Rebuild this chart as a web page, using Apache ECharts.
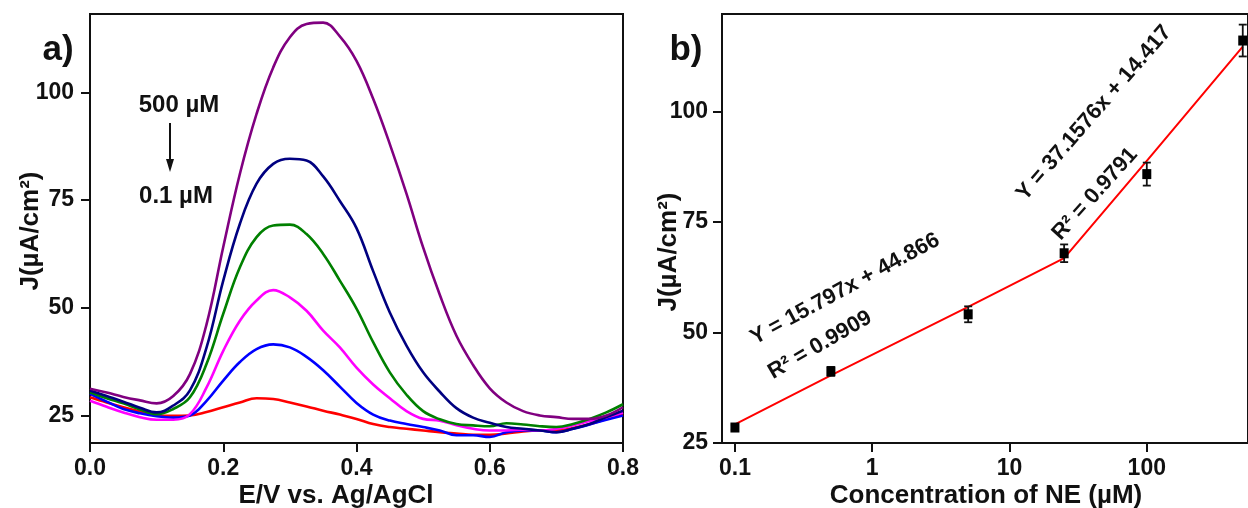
<!DOCTYPE html>
<html><head><meta charset="utf-8">
<script src="https://cdn.jsdelivr.net/npm/echarts@6/dist/echarts.min.js"></script>
<style>html,body{margin:0;padding:0;background:#fff}#c{width:1248px;height:508px}</style>
</head><body><div id="c"></div>
<script>
// ---- Panel a) : DPV curves ----
const potential = [0, 0.025, 0.05, 0.075, 0.10, 0.125, 0.15, 0.175, 0.20, 0.225, 0.25, 0.275, 0.30, 0.325, 0.35, 0.375, 0.40, 0.425, 0.45, 0.475, 0.50, 0.525, 0.55, 0.575, 0.60, 0.625, 0.65, 0.675, 0.70, 0.725, 0.75, 0.775, 0.80];
const j500uM = [31.2, 30.3, 29.3, 28.5, 27.8, 29.5, 34.6, 46.2, 64.1, 81.1, 95.0, 105.8, 112.8, 115.9, 116.2, 113.0, 107.3, 98.5, 88.0, 76.5, 64.0, 53.0, 43.5, 36.7, 31.3, 28.0, 26.0, 25.0, 24.6, 24.2, 24.2, 25.0, 26.9];
const j100uM = [30.8, 29.5, 28.2, 26.8, 25.7, 27.3, 30.8, 40.8, 56.3, 69.5, 78.8, 83.4, 84.6, 84.2, 80.5, 74.8, 68.5, 58.5, 48.9, 41.2, 35.0, 30.5, 26.7, 24.5, 23.3, 22.3, 21.9, 21.5, 21.1, 21.9, 23.0, 24.6, 26.1];
const j25uM = [30.4, 29.0, 27.8, 26.4, 25.3, 26.5, 29.2, 37.0, 48.6, 59.4, 66.4, 69.1, 69.3, 67.1, 62.5, 56.3, 49.8, 42.0, 35.0, 29.8, 26.0, 24.1, 23.0, 22.7, 22.5, 23.2, 22.9, 22.5, 22.3, 23.0, 24.2, 25.7, 27.6];
const j5uM = [28.4, 27.0, 25.7, 24.6, 24.0, 24.0, 25.3, 31.5, 40.0, 47.0, 51.7, 54.1, 52.4, 49.3, 44.7, 40.8, 36.1, 32.2, 29.0, 26.0, 24.2, 23.8, 22.7, 21.9, 21.5, 21.5, 21.7, 21.5, 21.9, 22.7, 23.7, 24.6, 25.7];
const j05uM = [30.0, 28.2, 26.5, 25.5, 24.8, 24.5, 25.0, 28.4, 33.1, 37.4, 40.4, 41.5, 40.8, 38.6, 35.5, 31.7, 27.9, 25.2, 23.8, 23.0, 22.3, 21.5, 20.4, 20.4, 20.0, 21.1, 21.5, 21.5, 21.1, 21.9, 22.9, 24.0, 25.0];
const j01uM = [29.2, 28.0, 26.9, 25.9, 25.0, 24.9, 25.0, 25.8, 26.9, 28.0, 29.0, 28.8, 28.0, 27.1, 26.1, 25.2, 24.2, 23.0, 22.3, 21.9, 21.5, 21.1, 20.8, 20.5, 20.5, 20.8, 21.3, 21.5, 21.5, 22.1, 23.0, 24.2, 25.3];
const curveColors = ['#800080', '#000080', '#008000', '#ff00ff', '#0000ff', '#ff0000'];
const leftXTicks = [0, 0.2, 0.4, 0.6, 0.8];
const leftYTicks = [25, 50, 75, 100];

// ---- Panel b) : calibration ----
const concentration = [0.1, 0.5, 5, 25, 100, 500];
const peakCurrent = [28.5, 41.2, 54.1, 67.9, 85.8, 116.0];
const peakError = [0.6, 1.0, 1.8, 2.0, 2.6, 3.6];
const fitCurrent = [29.2, 40.3, 55.8, 66.8, 88.8, 114.6];
const rightXTicks = [0.1, 1, 10, 100];
const rightYTicks = [25, 50, 75, 100];

const FONT = '"Liberation Sans", Arial, sans-serif';
const INK = '#111';
const lbl = (size) => ({ fontFamily: FONT, fontWeight: 'bold', fontSize: size, color: INK });

const chart = echarts.init(document.getElementById('c'), null, { renderer: 'canvas' });
const curves = [j500uM, j100uM, j25uM, j5uM, j05uM, j01uM];

const axisLineStyle = { show: true, onZero: false, lineStyle: { color: INK, width: 2 } };
const tickStyle = (vals) => ({ show: true, inside: false, length: 9, customValues: vals, lineStyle: { color: INK, width: 2 } });

const txt = (x, y, text, size, rotDeg) => ({
  type: 'text', x: x, y: y, rotation: (rotDeg || 0) * Math.PI / 180,
  style: { text: text, font: 'bold ' + size + 'px ' + FONT, fill: INK, align: 'center', verticalAlign: 'middle' }
});

chart.setOption({
  backgroundColor: '#ffffff',
  animation: false,
  grid: [
    { left: 90, top: 14, width: 533, height: 429, show: true, borderColor: INK, borderWidth: 2, containLabel: false },
    { left: 722, top: 14, width: 530, height: 429, show: true, borderColor: INK, borderWidth: 2, containLabel: false }
  ],
  xAxis: [
    { type: 'value', gridIndex: 0, min: 0, max: 0.8, interval: 0.2, axisLine: axisLineStyle, axisTick: tickStyle(leftXTicks),
      splitLine: { show: false },
      axisLabel: Object.assign(lbl(23), { margin: 14, customValues: leftXTicks, formatter: v => (+v).toFixed(1) }) },
    { type: 'log', gridIndex: 1, logBase: 10, min: 0.0805, max: 546, axisLine: axisLineStyle,
      axisTick: tickStyle(rightXTicks),
      splitLine: { show: false }, minorTick: { show: false },
      axisLabel: Object.assign(lbl(23), { margin: 14, customValues: rightXTicks, formatter: v => String(+(+v).toPrecision(3)) }) }
  ],
  yAxis: [
    { type: 'value', gridIndex: 0, min: 18.6, max: 118.2, axisLine: axisLineStyle,
      axisTick: tickStyle(leftYTicks), splitLine: { show: false },
      axisLabel: Object.assign(lbl(23), { margin: 16, customValues: leftYTicks }) },
    { type: 'value', gridIndex: 1, min: 25, max: 122, axisLine: axisLineStyle,
      axisTick: tickStyle(rightYTicks), splitLine: { show: false },
      axisLabel: Object.assign(lbl(23), { margin: 14, customValues: rightYTicks }) }
  ],
  series: curves.map((arr, k) => ({
    type: 'line', xAxisIndex: 0, yAxisIndex: 0, showSymbol: false, smooth: 0.4,
    lineStyle: { color: curveColors[k], width: 2.6 }, itemStyle: { color: curveColors[k] },
    data: potential.map((e, i) => [e, arr[i]]), z: 2 + (5 - k)
  })).concat([
    { type: 'line', xAxisIndex: 1, yAxisIndex: 1, showSymbol: false, smooth: false,
      lineStyle: { color: '#ff0000', width: 2 }, data: concentration.map((c, i) => [c, fitCurrent[i]]), z: 2 },
    { type: 'custom', xAxisIndex: 1, yAxisIndex: 1, z: 4,
      encode: { x: 0, y: [1, 2] },
      data: concentration.map((c, i) => [c, peakCurrent[i] - peakError[i], peakCurrent[i] + peakError[i]]),
      renderItem: function (params, api) {
        const lo = api.coord([api.value(0), api.value(1)]);
        const hi = api.coord([api.value(0), api.value(2)]);
        const w = 4, st = { stroke: INK, lineWidth: 1.8 };
        return { type: 'group', children: [
          { type: 'line', shape: { x1: lo[0], y1: lo[1], x2: hi[0], y2: hi[1] }, style: st },
          { type: 'line', shape: { x1: lo[0] - w, y1: lo[1], x2: lo[0] + w, y2: lo[1] }, style: st },
          { type: 'line', shape: { x1: hi[0] - w, y1: hi[1], x2: hi[0] + w, y2: hi[1] }, style: st }
        ] };
      } },
    { type: 'scatter', xAxisIndex: 1, yAxisIndex: 1, symbol: 'rect', symbolSize: [9, 10], z: 5,
      itemStyle: { color: '#000', opacity: 1 }, data: concentration.map((c, i) => [c, peakCurrent[i]]) }
  ]),
  graphic: [
    txt(58, 50, 'a)', 35),
    txt(686, 50, 'b)', 35),
    txt(179, 105, '500 µM', 24),
    txt(176, 196, '0.1 µM', 24),
    { type: 'line', shape: { x1: 170, y1: 123, x2: 170, y2: 162 }, style: { stroke: INK, lineWidth: 2 } },
    { type: 'polygon', shape: { points: [[166, 159], [174, 159], [170, 172]] }, style: { fill: INK } },
    txt(31, 231, 'J(µA/cm²)', 26, 90),
    txt(336, 496, 'E/V vs. Ag/AgCl', 26),
    txt(669, 252, 'J(µA/cm²)', 26, 90),
    txt(986, 496, 'Concentration of NE (µM)', 26),
    txt(845, 289, 'Y = 15.797x + 44.866', 22, 28.5),
    txt(820, 345, 'R² = 0.9909', 22, 30),
    txt(1094, 113, 'Y = 37.1576x + 14.417', 22, 49),
    txt(1095, 194, 'R² = 0.9791', 22, 48)
  ]
});
</script></body></html>
